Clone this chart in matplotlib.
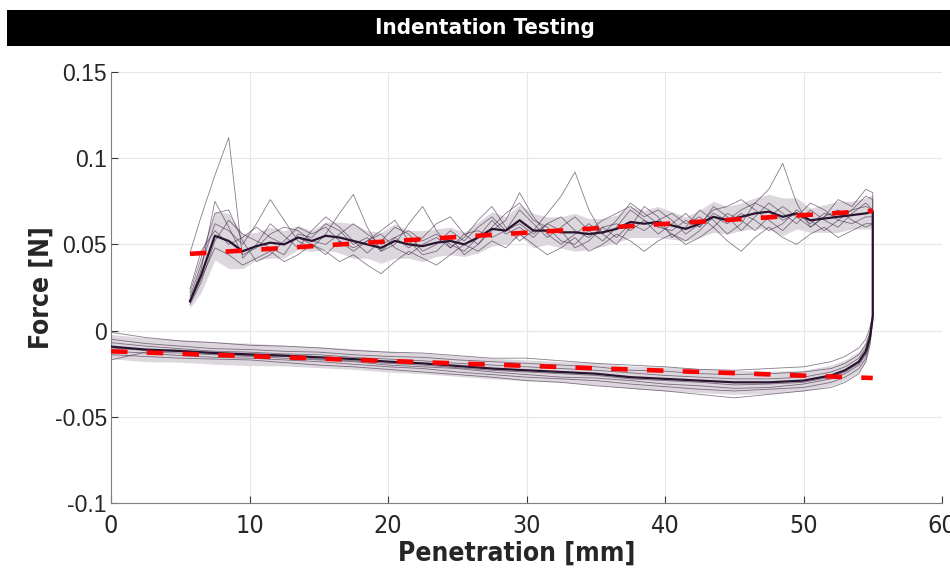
import numpy as np
import matplotlib as mpl
mpl.use("Agg")
from matplotlib import pyplot as plt
from matplotlib.patches import Rectangle

# ---- data ----
# push-in branch, sampled along penetration [mm]
up_x = [5.7, 6.5, 7.5, 8.5, 9.5, 10.5, 11.5, 12.5, 13.5, 14.5, 15.5, 16.5, 17.5,
        18.5, 19.5, 20.5, 21.5, 22.5, 23.5, 24.5, 25.5, 26.5, 27.5, 28.5, 29.5,
        30.5, 31.5, 32.5, 33.5, 34.5, 35.5, 36.5, 37.5, 38.5, 39.5, 40.5, 41.5,
        42.5, 43.5, 44.5, 45.5, 46.5, 47.5, 48.5, 49.5, 50.5, 51.5, 52.5, 53.5,
        54.5, 55.0]

up_runs = [
    [.045, .066, .090, .112, .042, .050, .062, .055, .048, .058, .066, .060, .052,
     .045, .052, .060, .056, .046, .050, .058, .052, .060, .066, .058, .070,
     .062, .054, .060, .066, .058, .052, .060, .070, .064, .056, .062, .068,
     .060, .072, .066, .058, .066, .074, .068, .062, .070, .064, .060, .068,
     .074, .070],
    [.020, .038, .062, .058, .050, .062, .076, .064, .052, .048, .056, .068, .079,
     .060, .046, .050, .062, .072, .058, .048, .054, .064, .072, .060, .052,
     .058, .068, .078, .092, .070, .056, .050, .060, .072, .066, .054, .060,
     .070, .064, .056, .062, .074, .082, .097, .074, .060, .066, .076, .072,
     .082, .080],
    [.016, .030, .048, .044, .038, .042, .046, .040, .044, .050, .046, .040, .044,
     .038, .033, .040, .046, .042, .038, .044, .050, .046, .052, .048, .056,
     .050, .044, .048, .054, .046, .050, .056, .052, .046, .052, .056, .050,
     .054, .060, .052, .046, .054, .060, .054, .050, .056, .060, .054, .058,
     .062, .062],
    [.018, .035, .075, .060, .044, .048, .056, .060, .058, .052, .050, .056, .062,
     .056, .050, .054, .048, .054, .062, .066, .056, .050, .060, .068, .074,
     .064, .060, .052, .050, .058, .064, .068, .072, .066, .070, .064, .056,
     .062, .070, .072, .076, .070, .064, .058, .066, .074, .070, .064, .070,
     .078, .076],
    [.022, .042, .068, .070, .052, .040, .044, .052, .060, .056, .060, .052, .046,
     .052, .058, .064, .052, .044, .046, .054, .044, .050, .058, .064, .080,
     .066, .056, .050, .056, .062, .056, .064, .074, .068, .062, .056, .052,
     .058, .066, .062, .068, .064, .058, .062, .070, .064, .058, .064, .062,
     .066, .066],
    [.015, .028, .052, .064, .056, .052, .048, .044, .056, .054, .062, .058, .050,
     .054, .046, .054, .058, .052, .056, .050, .046, .054, .064, .056, .060,
     .054, .062, .058, .048, .052, .060, .054, .062, .058, .064, .068, .062,
     .066, .060, .068, .064, .058, .066, .072, .066, .060, .066, .070, .064,
     .060, .062],
    [.024, .046, .058, .050, .054, .060, .054, .050, .054, .050, .044, .052, .048,
     .052, .056, .048, .044, .050, .054, .048, .056, .058, .054, .058, .062,
     .056, .062, .066, .058, .054, .060, .062, .058, .064, .060, .058, .064,
     .060, .068, .064, .070, .074, .070, .064, .068, .062, .068, .066, .070,
     .072, .070],
]

up_mean = [.017, .032, .055, .052, .046, .049, .051, .050, .054, .052, .055, .054,
           .052, .050, .048, .052, .050, .049, .051, .052, .050, .054, .059, .058,
           .064, .058, .058, .057, .057, .056, .057, .059, .063, .062, .063, .061,
           .059, .062, .066, .064, .066, .068, .069, .066, .068, .064, .065, .066,
           .067, .068, .069]

up_sd = [.004, .010, .014, .016, .010, .008, .009, .008, .007, .006, .008, .009,
         .010, .008, .009, .010, .008, .009, .008, .008, .007, .009, .010, .008,
         .009, .010, .008, .009, .011, .009, .008, .008, .009, .008, .009, .008,
         .007, .008, .009, .008, .008, .009, .010, .011, .009, .007, .008, .009,
         .008, .009, .010]

# retraction branch, from the end of the stroke back to zero
low_x = [55.0, 54.8, 54.5, 54.0, 53.0, 52.0, 50.0, 47.5, 45.0, 42.5, 40.0, 37.5,
         35.0, 32.5, 30.0, 27.5, 25.0, 22.5, 20.0, 17.5, 15.0, 12.5, 10.0, 7.5,
         5.0, 2.5, 0.0]

low_runs = [
    [.010, .002, -.005, -.010, -.015, -.018, -.021, -.022, -.023, -.0225, -.021,
     -.020, -.019, -.0175, -.016, -.016, -.0145, -.013, -.0125, -.0115, -.010,
     -.009, -.0085, -.007, -.006, -.004, -.001],
    [.009, -.001, -.008, -.014, -.019, -.022, -.024, -.025, -.0255, -.025, -.0235,
     -.023, -.021, -.020, -.019, -.018, -.017, -.0155, -.015, -.014, -.0125,
     -.012, -.011, -.0105, -.009, -.0075, -.005],
    [.008, -.004, -.013, -.019, -.024, -.027, -.030, -.031, -.0315, -.030, -.029,
     -.028, -.026, -.025, -.024, -.023, -.0215, -.020, -.019, -.0175, -.0165,
     -.015, -.0145, -.0135, -.012, -.0115, -.010],
    [.007, -.006, -.016, -.022, -.027, -.030, -.033, -.034, -.035, -.034, -.0325,
     -.031, -.029, -.028, -.027, -.0255, -.024, -.022, -.021, -.0195, -.018,
     -.017, -.016, -.0155, -.0145, -.013, -.012],
    [.006, -.008, -.018, -.025, -.030, -.033, -.035, -.037, -.039, -.037, -.035,
     -.0335, -.032, -.030, -.029, -.027, -.0255, -.024, -.0225, -.021, -.020,
     -.0185, -.017, -.0165, -.016, -.015, -.014],
    [.009, -.002, -.010, -.016, -.021, -.024, -.027, -.028, -.028, -.027, -.026,
     -.0245, -.023, -.022, -.021, -.020, -.019, -.0175, -.0165, -.0155, -.014,
     -.0135, -.0125, -.012, -.0105, -.009, -.007],
    [.008, -.005, -.014, -.020, -.025, -.028, -.031, -.033, -.0335, -.032, -.031,
     -.029, -.0275, -.027, -.0255, -.024, -.022, -.021, -.020, -.018, -.017,
     -.016, -.015, -.014, -.013, -.0125, -.017],
]

low_mean = [.008, -.004, -.012, -.018, -.023, -.026, -.029, -.030, -.030, -.029,
            -.028, -.027, -.025, -.024, -.023, -.022, -.0205, -.019, -.018,
            -.0165, -.0155, -.0145, -.0138, -.013, -.0118, -.011, -.0093]

low_sd = [.003, .005, .006, .006, .006, .006, .006, .0065, .007, .007, .007,
          .0065, .0065, .006, .006, .006, .006, .006, .006, .006, .006, .006,
          .0065, .0065, .0065, .007, .007]

# linear fits (dashed red)
fit_up_x = [5.7, 55.0]
fit_up_y = [0.0445, 0.0695]
fit_low_x = [0.0, 55.0]
fit_low_y = [-0.012, -0.0275]

x_ticks = [0, 10, 20, 30, 40, 50, 60]
y_ticks = [-0.1, -0.05, 0, 0.05, 0.1, 0.15]
y_tick_labels = ['-0.1', '-0.05', '0', '0.05', '0.1', '0.15']

# ---- figure ----
plt.rcParams['font.family'] = ['Liberation Sans', 'DejaVu Sans']
cond = dict(family=['DejaVu Sans'], fontstretch='condensed')

fig = plt.figure(figsize=(9.5, 5.71), dpi=100)
fig.patches.append(Rectangle((7 / 950, 1 - 46 / 571), 1.0, 36 / 571,
                             transform=fig.transFigure, facecolor='black',
                             edgecolor='none', zorder=0))
fig.text(485 / 950, 1 - 28 / 571, 'Indentation Testing', color='white',
         fontsize=16, fontweight='bold', ha='center', va='center', **cond)

ax = fig.add_axes([111 / 950, 1 - 503 / 571, (942 - 111) / 950, (503 - 72) / 571])

band_c = '#dcd6dd'
trace_c = '#3a2440'
mean_c = '#2a1530'

up_x_a = np.array(up_x)
low_x_a = np.array(low_x)
ax.fill_between(up_x_a, np.array(up_mean) - np.array(up_sd),
                np.array(up_mean) + np.array(up_sd), color=band_c, lw=0, zorder=1)
ax.fill_between(low_x_a, np.array(low_mean) - np.array(low_sd),
                np.array(low_mean) + np.array(low_sd), color=band_c, lw=0, zorder=1)

for up, low in zip(up_runs, low_runs):
    ax.plot(np.concatenate([up_x_a, low_x_a]), np.concatenate([up, low]),
            color=trace_c, lw=0.6, alpha=0.6, zorder=2)

ax.plot(np.concatenate([up_x_a, low_x_a]), np.concatenate([up_mean, low_mean]),
        color=mean_c, lw=1.6, zorder=3)

ax.plot(fit_up_x, fit_up_y, color='#ff0000', lw=3.3, dashes=(3.6, 4.2), zorder=4)
ax.plot(fit_low_x, fit_low_y, color='#ff0000', lw=3.3, dashes=(3.6, 4.2), zorder=4)

ax.set_xlim(0, 60)
ax.set_ylim(-0.1, 0.15)
ax.set_xticks(x_ticks)
ax.set_yticks(y_ticks)
ax.set_yticklabels(y_tick_labels)
ax.grid(True, color='#e6e6e6', lw=0.8)
ax.set_axisbelow(True)

for s in ['top', 'right']:
    ax.spines[s].set_visible(False)
for s in ['left', 'bottom']:
    ax.spines[s].set_color('#7f7f7f')
    ax.spines[s].set_linewidth(0.8)

ax.tick_params(direction='in', length=5, width=0.8, color='#3a3a3a',
               labelcolor='#262626')
ax.tick_params(axis='y', labelsize=16.5, pad=3)
ax.tick_params(axis='x', labelsize=18, pad=8)
for lab in ax.get_xticklabels():
    lab.set_family(['DejaVu Sans'])
    lab.set_fontstretch('condensed')

ax.set_xlabel('Penetration [mm]', fontsize=19, fontweight='bold', color='#262626',
              **cond)
ax.xaxis.set_label_coords(0.488, -0.087)
ax.set_ylabel('Force [N]', fontsize=19, fontweight='bold', color='#262626',
              labelpad=0, **cond)

fig.savefig('out.png', dpi=100)
